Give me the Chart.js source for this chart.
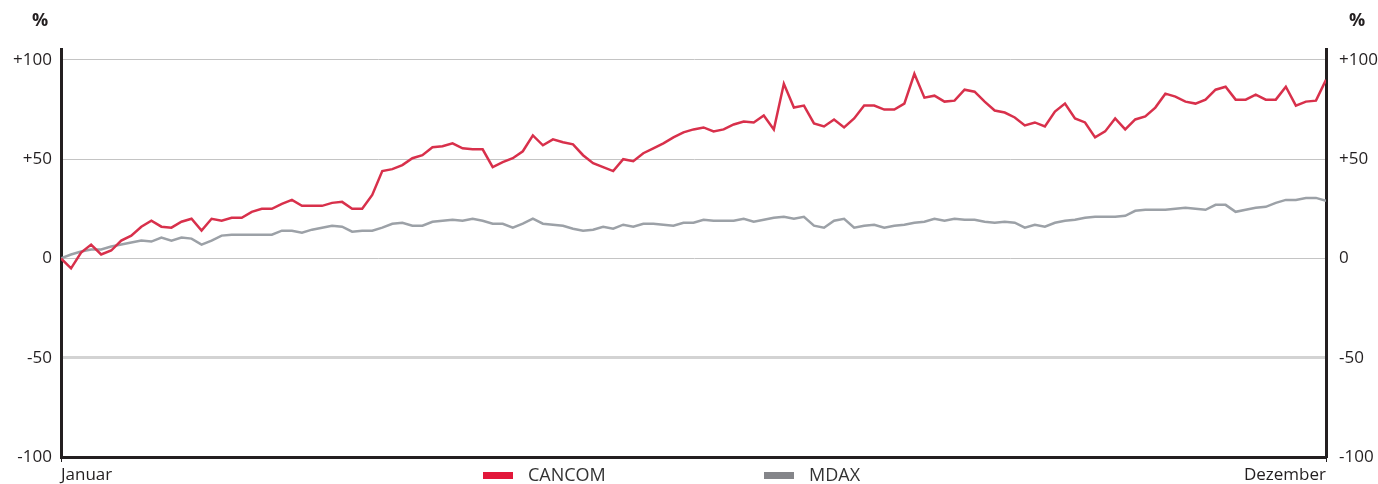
<!DOCTYPE html>
<html lang="de">
<head>
    <meta charset="UTF-8">
    <title>CANCOM vs. MDAX</title>
    <script src="https://cdn.jsdelivr.net/npm/chart.js"></script>
    <style>
        body {
            margin: 0;
            padding: 0;
            background: #fff;
        }
        .chart-box {
            position: relative;
            width: 1378px;
            height: 484px;
        }
    </style>
</head>
<body>
    <div class="chart-box">
        <canvas id="perfChart"></canvas>
    </div>

    <script>
        // Kursentwicklung in % (Januar bis Dezember)
        const xLabels = ['Januar', 'Dezember'];
        const tickValues = [-100, -50, 0, 50, 100];
        const tickLabels = ['-100', '-50', '0', '+50', '+100'];

        const cancom = [
            0, -5, 3, 7, 2, 4, 9, 11.5, 16, 19,
            16, 15.5, 18.5, 20, 14, 20, 19, 20.5, 20.5, 23.5,
            25, 25, 27.5, 29.5, 26.5, 26.5, 26.5, 28, 28.5, 25,
            25, 32, 44, 45, 47, 50.5, 52, 56, 56.5, 58,
            55.5, 55, 55, 46, 48.5, 50.5, 54, 62, 57, 60,
            58.5, 57.5, 52, 48, 46, 44, 50, 49, 53, 55.5,
            58, 61, 63.5, 65, 66, 64, 65, 67.5, 69, 68.5,
            72, 65, 88, 76, 77, 68, 66.5, 70, 66, 70.5,
            77, 77, 75, 75, 78, 93, 81, 82, 79, 79.5,
            85, 84, 79, 74.5, 73.5, 71, 67, 68.5, 66.5, 74,
            78, 70.5, 68.5, 61, 64, 70.5, 65, 70, 71.5, 76,
            83, 81.5, 79, 78, 80, 85, 86.5, 80, 80, 82.5,
            80, 80, 86.5, 77, 79, 79.5, 90
        ];

        const mdax = [
            0, 2, 3.5, 4.5, 4.5, 6, 7, 8, 9, 8.5,
            10.5, 9, 10.5, 10, 7, 9, 11.5, 12, 12, 12,
            12, 12, 14, 14, 13, 14.5, 15.5, 16.5, 16, 13.5,
            14, 14, 15.5, 17.5, 18, 16.5, 16.5, 18.5, 19, 19.5,
            19, 20, 19, 17.5, 17.5, 15.5, 17.5, 20, 17.5, 17,
            16.5, 15, 14, 14.5, 16, 15, 17, 16, 17.5, 17.5,
            17, 16.5, 18, 18, 19.5, 19, 19, 19, 20, 18.5,
            19.5, 20.5, 21, 20, 21, 16.5, 15.5, 19, 20, 15.5,
            16.5, 17, 15.5, 16.5, 17, 18, 18.5, 20, 19, 20,
            19.5, 19.5, 18.5, 18, 18.5, 18, 15.5, 17, 16, 18,
            19, 19.5, 20.5, 21, 21, 21, 21.5, 24, 24.5, 24.5,
            24.5, 25, 25.5, 25, 24.5, 27, 27, 23.5, 24.5, 25.5,
            26, 28, 29.5, 29.5, 30.5, 30.5, 29
        ];

        const seriesNames = ['CANCOM', 'MDAX'];
        const lineColors = ['#d8304b', '#9ca1a7'];
        const swatchColors = ['#e2173a', '#848589'];

        const ink = '#231f20';
        const font = { family: '"Open Sans", Arial, sans-serif', size: 17 };

        // legend + % signs drawn on the canvas
        const extras = {
            id: 'extras',
            afterDraw(chart) {
                const c = chart.ctx;
                c.save();
                c.font = 'bold 18px "Open Sans", Arial, sans-serif';
                c.fillStyle = ink;
                c.textBaseline = 'middle';
                c.textAlign = 'left';
                c.fillText('%', 32, 21);
                c.fillText('%', 1349, 21);

                const pos = [[483, 528], [764, 809]];
                c.font = '18px "Open Sans", Arial, sans-serif';
                seriesNames.forEach((name, i) => {
                    c.fillStyle = swatchColors[i];
                    c.fillRect(pos[i][0], 472, 30, 7);
                    c.fillStyle = '#333';
                    c.fillText(name, pos[i][1], 476);
                });
                c.restore();
            }
        };

        const yTicks = axis => { axis.ticks = tickValues.map(v => ({ value: v })); };

        new Chart(document.getElementById('perfChart'), {
            type: 'line',
            data: {
                datasets: [
                    {
                        label: seriesNames[0],
                        data: cancom.map((v, i) => ({ x: i, y: v })),
                        borderColor: lineColors[0],
                        borderWidth: 2.5,
                        pointRadius: 0,
                        tension: 0
                    },
                    {
                        label: seriesNames[1],
                        data: mdax.map((v, i) => ({ x: i, y: v })),
                        borderColor: lineColors[1],
                        borderWidth: 2.5,
                        pointRadius: 0,
                        tension: 0
                    }
                ]
            },
            options: {
                responsive: true,
                maintainAspectRatio: false,
                animation: false,
                layout: { padding: { top: 49, left: 0, right: 0, bottom: 0 } },
                plugins: {
                    legend: { display: false },
                    tooltip: { enabled: false }
                },
                scales: {
                    x: {
                        type: 'linear',
                        min: 0,
                        max: cancom.length - 1,
                        afterBuildTicks: axis => { axis.ticks = [{ value: 0 }, { value: cancom.length - 1 }]; },
                        afterFit: s => { s.height = 27; },
                        ticks: {
                            align: 'inner',
                            maxRotation: 0,
                            autoSkip: false,
                            padding: 3,
                            color: ink,
                            font: font,
                            callback: (v, i) => xLabels[i]
                        },
                        grid: { drawOnChartArea: false, tickLength: 5, color: ink, lineWidth: 1 },
                        border: { color: ink, width: 3 }
                    },
                    y: {
                        position: 'left',
                        min: -100,
                        max: 105.5,
                        afterBuildTicks: yTicks,
                        afterFit: s => { s.width = 61; },
                        ticks: {
                            padding: 9,
                            color: ink,
                            font: font,
                            callback: (v, i) => tickLabels[i]
                        },
                        grid: {
                            drawTicks: false,
                            color: ctx => ctx.tick.value === -100 ? 'rgba(0,0,0,0)'
                                : ctx.tick.value === -50 ? '#d3d3d3' : '#c4c4c4',
                            lineWidth: ctx => ctx.tick.value === -50 ? 3 : 1
                        },
                        border: { color: ink, width: 3 }
                    },
                    y2: {
                        position: 'right',
                        min: -100,
                        max: 105.5,
                        afterBuildTicks: yTicks,
                        afterFit: s => { s.width = 52; },
                        ticks: {
                            padding: 5,
                            color: ink,
                            font: font,
                            callback: (v, i) => tickLabels[i]
                        },
                        grid: { display: false },
                        border: { color: ink, width: 3 }
                    }
                }
            },
            plugins: [extras]
        });
    </script>
</body>
</html>
